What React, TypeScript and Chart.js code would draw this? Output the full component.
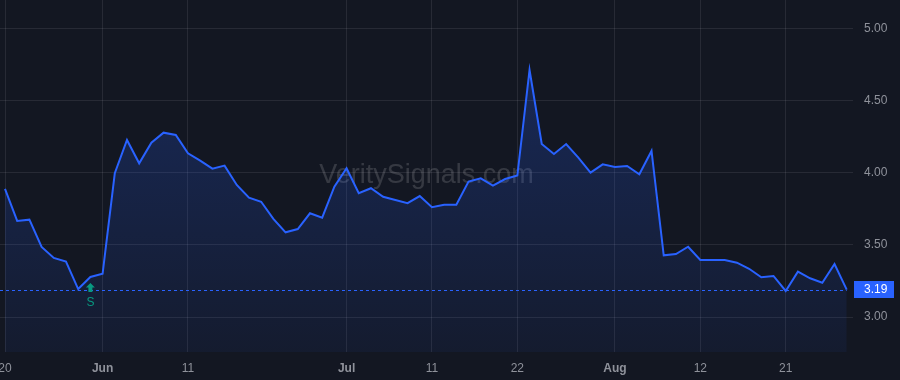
import { useEffect, useRef } from "react";
import { Chart, registerables } from "chart.js";

Chart.register(...registerables);

// Daily closing values (70 trading sessions)
const values = [
  3.89, 3.667, 3.676, 3.486, 3.41, 3.385, 3.194, 3.278, 3.3, 3.998,
  4.229, 4.067, 4.21, 4.28, 4.264, 4.137, 4.086, 4.03, 4.051, 3.917,
  3.829, 3.8, 3.681, 3.588, 3.611, 3.72, 3.69, 3.905, 4.033, 3.859,
  3.894, 3.835, 3.8125, 3.79, 3.84, 3.762, 3.78, 3.78, 3.94, 3.963,
  3.912, 3.958, 3.982, 4.715, 4.201, 4.132, 4.201, 4.106, 4.002, 4.06,
  4.042, 4.049, 3.991, 4.153, 3.428, 3.4375, 3.488, 3.396, 3.396, 3.396,
  3.377, 3.335, 3.276, 3.285, 3.181, 3.315, 3.269, 3.238, 3.368, 3.19,
];

const tickIndices = [0, 8, 15, 28, 35, 42, 50, 57, 64];
const tickLabels = ["20", "Jun", "11", "Jul", "11", "22", "Aug", "12", "21"];
const monthLabels = ["Jun", "Jul", "Aug"];
const yTicks = [3.0, 3.5, 4.0, 4.5, 5.0];
const lastPrice = 3.19;
const signalIndices = [7];
const signalTexts = ["S"];
const watermark = "VeritySignals.com";

const FONT = '"Liberation Sans", Arial, sans-serif';
const BG = "#131722";
const BLUE = "#2962ff";
const TEAL = "#089981";
const GRID = "rgba(240,243,250,0.09)";
const TEXT = "#8f929b";

export default function App() {
  const ref = useRef<HTMLCanvasElement | null>(null);

  useEffect(() => {
    const canvas = ref.current;
    if (!canvas) return;

    const overlay = {
      id: "overlay",
      beforeDraw(chart: any) {
        const { ctx } = chart;
        ctx.save();
        ctx.fillStyle = BG;
        ctx.fillRect(0, 0, chart.width, chart.height);
        ctx.restore();
      },
      beforeDatasetsDraw(chart: any) {
        const { ctx, chartArea } = chart;
        ctx.save();
        ctx.font = `27px ${FONT}`;
        ctx.fillStyle = "rgba(255,255,255,0.15)";
        ctx.textAlign = "center";
        ctx.textBaseline = "alphabetic";
        ctx.fillText(watermark, (chartArea.left + chartArea.right) / 2, 183);
        ctx.restore();
      },
      afterDatasetsDraw(chart: any) {
        const { ctx, chartArea, scales } = chart;
        const xs = scales.x;
        const ys = scales.y;
        const py = Math.round(ys.getPixelForValue(lastPrice)) + 0.5;
        const lastX = xs.getPixelForValue(values.length - 1);
        ctx.save();
        ctx.strokeStyle = BLUE;
        ctx.lineWidth = 1;
        ctx.setLineDash([3, 3]);
        ctx.beginPath();
        ctx.moveTo(chartArea.left, py);
        ctx.lineTo(lastX, py);
        ctx.stroke();
        ctx.setLineDash([]);

        signalIndices.forEach((idx, k) => {
          const x = xs.getPixelForValue(idx);
          const y = ys.getPixelForValue(values[idx]);
          const top = y + 6;
          ctx.fillStyle = TEAL;
          ctx.beginPath();
          ctx.moveTo(x, top);
          ctx.lineTo(x + 4.5, top + 4.5);
          ctx.lineTo(x + 2, top + 4.5);
          ctx.lineTo(x + 2, top + 9);
          ctx.lineTo(x - 2, top + 9);
          ctx.lineTo(x - 2, top + 4.5);
          ctx.lineTo(x - 4.5, top + 4.5);
          ctx.closePath();
          ctx.fill();
          ctx.font = `12px ${FONT}`;
          ctx.textAlign = "center";
          ctx.textBaseline = "middle";
          ctx.fillText(signalTexts[k], x, top + 20);
        });
        ctx.restore();
      },
      afterDraw(chart: any) {
        const { ctx, scales } = chart;
        const ys = scales.y;
        const py = ys.getPixelForValue(lastPrice);
        ctx.save();
        ctx.fillStyle = BLUE;
        ctx.fillRect(854, Math.round(py - 8.5), 40, 17);
        ctx.fillStyle = "#ffffff";
        ctx.font = `12px ${FONT}`;
        ctx.textAlign = "left";
        ctx.textBaseline = "middle";
        ctx.fillText(lastPrice.toFixed(2), 864, py + 0.5);
        ctx.restore();
      },
    };

    const chart = new Chart(canvas, {
      type: "line",
      data: {
        datasets: [
          {
            data: values.map((v, i) => ({ x: i, y: v })),
            borderColor: BLUE,
            borderWidth: 2,
            pointRadius: 0,
            tension: 0,
            fill: "start",
            backgroundColor: (c: any) => {
              const ca = c.chart.chartArea;
              if (!ca) return "rgba(41,98,255,0.15)";
              const g = c.chart.ctx.createLinearGradient(0, ca.top, 0, ca.bottom);
              g.addColorStop(0, "rgba(41,98,255,0.28)");
              g.addColorStop(1, "rgba(41,98,255,0.06)");
              return g;
            },
          },
        ],
      },
      options: {
        responsive: false,
        animation: false,
        devicePixelRatio: 1,
        layout: { padding: 0 },
        plugins: {
          legend: { display: false },
          tooltip: { enabled: false },
        },
        scales: {
          x: {
            type: "linear",
            min: -0.41,
            max: 69.516,
            border: { display: false },
            grid: { color: GRID, drawTicks: false, lineWidth: 1 },
            afterBuildTicks: (scale: any) => {
              scale.ticks = tickIndices.map((v) => ({ value: v }));
            },
            afterFit: (scale: any) => {
              scale.height = 28;
              scale.paddingLeft = 0;
              scale.paddingRight = 0;
            },
            ticks: {
              autoSkip: false,
              maxRotation: 0,
              padding: 9,
              color: TEXT,
              font: (c: any) => ({
                family: FONT,
                size: 12,
                weight: monthLabels.includes(tickLabels[c.index]) ? "bold" : "normal",
              }),
              callback: (_v: any, i: number) => tickLabels[i],
            },
          },
          y: {
            position: "right",
            min: 2.757,
            max: 5.201,
            border: { display: false },
            grid: { color: GRID, drawTicks: false, lineWidth: 1 },
            afterBuildTicks: (scale: any) => {
              scale.ticks = yTicks.map((v) => ({ value: v }));
            },
            afterFit: (scale: any) => {
              scale.width = 47;
              scale.paddingTop = 0;
              scale.paddingBottom = 0;
            },
            ticks: {
              padding: 11,
              color: TEXT,
              font: { family: FONT, size: 12 },
              callback: (v: any) => Number(v).toFixed(2),
            },
          },
        },
      },
      plugins: [overlay],
    } as any);

    return () => chart.destroy();
  }, []);

  return (
    <div style={{ position: "fixed", left: 0, top: 0, width: 900, height: 380, background: BG }}>
      <canvas ref={ref} width={900} height={380} style={{ display: "block" }} />
    </div>
  );
}
